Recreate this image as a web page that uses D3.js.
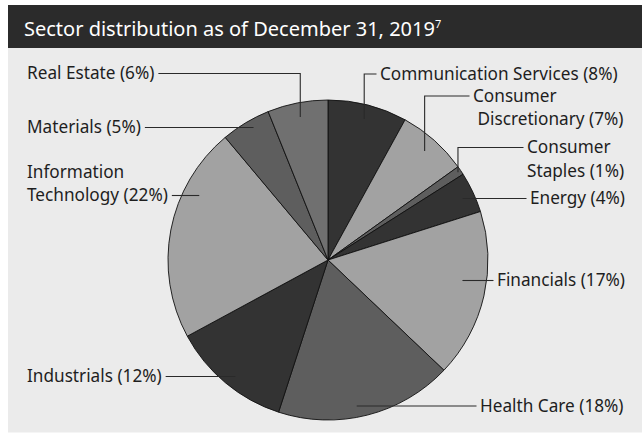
<!DOCTYPE html>
<html>
<head>
<meta charset="utf-8">
<script src="https://cdn.jsdelivr.net/npm/d3@7"></script>
<style>
	html, body { margin: 0; padding: 0; background: #fff; }
	svg { display: block; }
	text { font-family: "Noto Sans", "Open Sans", sans-serif; }
</style>
</head>
<body>
<div id="chart"></div>
<script>
// sector weights, clockwise from 12 o'clock
var sectors = ["Communication Services", "Consumer Discretionary", "Consumer Staples", "Energy",
	"Financials", "Health Care", "Industrials", "Information Technology", "Materials", "Real Estate"];
var weights = [8.0, 7.1, 0.9, 4.1, 17.0, 17.9, 12.1, 21.8, 5.0, 6.1];
var shades = ["#333333", "#a2a2a2", "#5e5e5e", "#333333", "#a2a2a2", "#5e5e5e", "#333333", "#a2a2a2", "#5e5e5e", "#707070"];

+function(){
	var W = 642, H = 433;
	var cx = 328, cy = 260, R = 160;

	var svg = d3.select('#chart').append('svg')
		.attr('width', W).attr('height', H);

	// panel + header
	svg.append('rect').attr('x', 8).attr('y', 48).attr('width', W - 8).attr('height', 384.5)
		.attr('fill', '#ebebeb');
	svg.append('rect').attr('x', 8).attr('y', 5).attr('width', W - 8).attr('height', 43)
		.attr('fill', '#2b2b2b');

	var title = svg.append('text')
		.attr('x', 24).attr('y', 35.5)
		.attr('fill', '#fff')
		.style('font-size', '20px');
	title.append('tspan').text('Sector distribution as of December 31, 2019');
	title.append('tspan').attr('dy', -8).style('font-size', '11px').text('7');

	var pie = d3.pie().sort(null).value(function(d){ return d; });
	var arcs = pie(weights);
	var arc = d3.arc().innerRadius(0).outerRadius(R);

	var g = svg.append('g').attr('transform', 'translate(' + cx + ',' + cy + ')');

	g.selectAll('path.slice')
		.data(arcs)
		.enter().append('path')
		.attr('class', 'slice')
		.attr('d', arc)
		.attr('fill', function(d, i){ return shades[i]; })
		.attr('stroke', '#111')
		.attr('stroke-width', 0.9)
		.attr('stroke-linejoin', 'round');

	// label placement: text x, leader y, elbow or straight leader, line breaks
	// k = radius factor where the leader starts inside the slice
	var layout = [
		{ x: 380, y: 74,    type: 'elbow', k: 0.91, breakAt: 0 },
		{ x: 473, y: 96,    type: 'elbow', k: 0.91, breakAt: 1, x2: 477.5 },
		{ x: 527, y: 147.5, type: 'elbow', k: 0.98, breakAt: 1 },
		{ x: 530, y: 198.5, type: 'flat',  k: 0.925, breakAt: 0 },
		{ x: 497, y: 280.5, type: 'flat',  k: 0.85, breakAt: 0 },
		{ x: 480, y: 406,   type: 'flat',  k: 0.93, breakAt: 0 },
		{ x: 27,  y: 376.5, type: 'flat',  k: 0.93, breakAt: 0 },
		{ x: 27,  y: 195.5, type: 'flat',  k: 0.9,  breakAt: 1, lineOn: 1 },
		{ x: 27,  y: 127.5, type: 'flat',  k: 0.95, breakAt: 0 },
		{ x: 27,  y: 73.5,  type: 'elbow', k: 0.91, breakAt: 0 }
	];

	var lineGap = 23.5;
	var labels = svg.append('g');

	arcs.forEach(function(a, i){
		var L = layout[i];
		var label = sectors[i] + ' (' + Math.round(weights[i]) + '%)';
		var words = label.split(' ');
		var lines = L.breakAt ? [words.slice(0, L.breakAt).join(' '), words.slice(L.breakAt).join(' ')] : [label];
		var lineOn = L.lineOn || 0;
		var leftSide = L.x < cx;

		var t = labels.append('text')
			.attr('fill', '#1e1e1e')
			.style('font-size', '17.2px');
		lines.forEach(function(s, j){
			t.append('tspan')
				.attr('x', j > 0 && L.x2 ? L.x2 : L.x)
				.attr('y', L.y + 5.5 + (j - lineOn) * lineGap)
				.text(s);
		});

		// leader end next to the text
		var endX;
		if(leftSide){
			var tw = t.selectAll('tspan').nodes()[lineOn].getComputedTextLength();
			endX = L.x + tw + 4;
		}else{
			endX = L.x - 3.5;
		}

		var mid = (a.startAngle + a.endAngle) / 2;
		var r = R * L.k;
		var pts;
		if(L.type === 'elbow'){
			var px = cx + r * Math.sin(mid), py = cy - r * Math.cos(mid);
			pts = [[px, py], [px, L.y], [endX, L.y]];
		}else{
			var dy = L.y - cy;
			var dx = Math.sqrt(Math.max(0, r * r - dy * dy));
			var sx = leftSide ? cx - dx : cx + dx;
			pts = [[sx, L.y], [endX, L.y]];
		}
		labels.append('path')
			.attr('d', d3.line()(pts))
			.attr('fill', 'none')
			.attr('stroke', '#2a2a2a')
			.attr('stroke-width', 1.1);
	});
}();
</script>
</body>
</html>
